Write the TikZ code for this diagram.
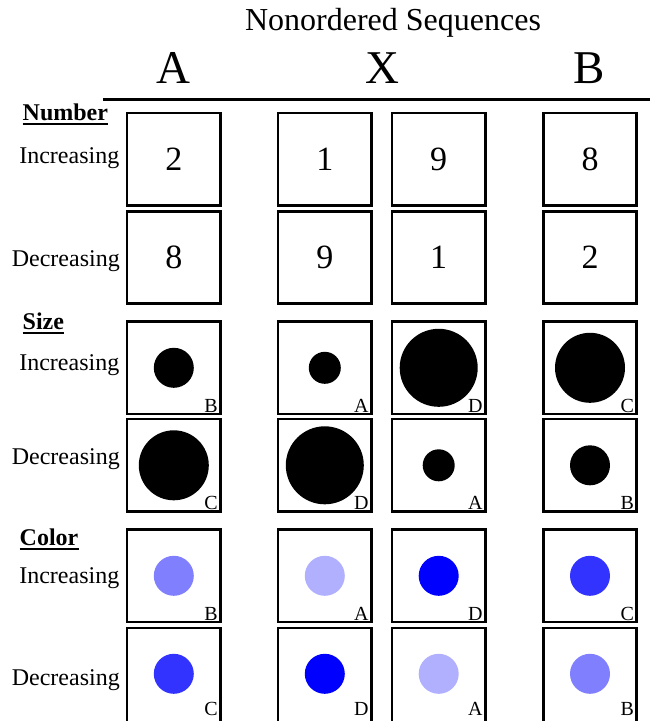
\documentclass[tikz,border=0pt]{standalone}
\usepackage{fontspec}
\setmainfont{Liberation Serif}
\definecolor{colA}{HTML}{B0B0FF}
\definecolor{colB}{HTML}{8080FF}
\definecolor{colC}{HTML}{3333FF}
\definecolor{colD}{HTML}{0000FF}
\tikzset{
  cell/.style={draw=black, line width=2.6pt, minimum width=93.5pt, minimum height=92.5pt, inner sep=0pt, fill=white},
  lastcell/.style={cell, minimum height=96pt},
  digit/.style={inner sep=0pt, font=\fontsize{34}{40}\selectfont},
  corner/.style={inner sep=0pt, anchor=base east, font=\fontsize{20}{24}\selectfont},
  rowlabel/.style={inner sep=0pt, anchor=base east, font=\fontsize{24}{28}\selectfont},
  heading/.style={inner sep=0pt, anchor=base west, font=\fontsize{24}{28}\selectfont\bfseries},
  colhead/.style={inner sep=0pt, anchor=base, font=\fontsize{47}{52}\selectfont},
  title/.style={inner sep=0pt, anchor=base, font=\fontsize{32}{38}\selectfont},
  dot/.style={circle, inner sep=0pt, draw=none},
}
\newcommand{\cellsize}[5]{% name, x, y, radius, letter
  \node[cell] (#1) at (#2,#3) {};
  \node[dot, fill=black, minimum size=#4*2pt] (#1d) at (#1.center) {};
  \node[corner] (#1l) at ([xshift=-4pt,yshift=3pt]#1.south east) {#5};
}
\newcommand{\cellcolor}[5]{% name, x, y, color, letter
  \node[cell] (#1) at (#2,#3) {};
  \node[dot, fill=#4, minimum size=40pt] (#1d) at (#1.center) {};
  \node[corner] (#1l) at ([xshift=-4pt,yshift=3pt]#1.south east) {#5};
}
\newcommand{\lastcellcolor}[4]{% name, x, color, letter
  \node[lastcell] (#1) at (#2,675.95) {};
  \node[dot, fill=#3, minimum size=40pt] (#1d) at (#2,673.8) {};
  \node[corner] (#1l) at ([xshift=-4pt]#1.east |- 0,715) {#4};
}
\begin{document}
\begin{tikzpicture}[x=1pt, y=-1pt]
\useasboundingbox (0,0) rectangle (650,721);

% header
\node[title] (title) at (393,30) {Nonordered Sequences};
\node[colhead] (hA) at (173,83.5) {A};
\node[colhead] (hX) at (382,83.5) {X};
\node[colhead] (hB) at (589,83.5) {B};
\coordinate (ruleL) at (103,99.3);
\coordinate (ruleR) at (650,99.3);
\draw[line width=3.3pt] (ruleL) -- (ruleR);

% headings
\node[heading] (hNum) at (22.5,120.5) {Number};
\draw[line width=1.8pt] ([yshift=-3.8pt]hNum.base west) -- ([yshift=-3.8pt]hNum.base east);
\node[heading] (hSize) at (22.5,329) {Size};
\draw[line width=1.8pt] ([yshift=-3.8pt]hSize.base west) -- ([yshift=-3.8pt]hSize.base east);
\node[heading] (hCol) at (19.5,545) {Color};
\draw[line width=1.8pt] ([yshift=-3.8pt]hCol.base west) -- ([yshift=-3.8pt]hCol.base east);

% row labels
\node[rowlabel] (l1) at (119.5,163.3) {Increasing};
\node[rowlabel] (l2) at (120,266.7) {Decreasing};
\node[rowlabel] (l3) at (119.5,370) {Increasing};
\node[rowlabel] (l4) at (120,464.3) {Decreasing};
\node[rowlabel] (l5) at (119.5,583.3) {Increasing};
\node[rowlabel] (l6) at (120,685) {Decreasing};

% number rows
\node[cell] (n1a) at (173.8,159.3) {};
\node[digit] (n1at) at (n1a.center) {2};
\node[cell] (n1x) at (324.8,159.3) {};
\node[digit] (n1xt) at (n1x.center) {1};
\node[cell] (n1y) at (438.7,159.3) {};
\node[digit] (n1yt) at (n1y.center) {9};
\node[cell] (n1b) at (590,159.3) {};
\node[digit] (n1bt) at (n1b.center) {8};

\node[cell] (n2a) at (173.8,257.5) {};
\node[digit] (n2at) at (n2a.center) {8};
\node[cell] (n2x) at (324.8,257.5) {};
\node[digit] (n2xt) at (n2x.center) {9};
\node[cell] (n2y) at (438.7,257.5) {};
\node[digit] (n2yt) at (n2y.center) {1};
\node[cell] (n2b) at (590,257.5) {};
\node[digit] (n2bt) at (n2b.center) {2};

% size rows
\cellsize{s1a}{173.8}{367.8}{20}{B}
\cellsize{s1x}{324.8}{367.8}{16}{A}
\cellsize{s1y}{438.7}{367.8}{39}{D}
\cellsize{s1b}{590}{367.8}{35}{C}

\cellsize{s2a}{173.8}{465.3}{35}{C}
\cellsize{s2x}{324.8}{465.3}{39}{D}
\cellsize{s2y}{438.7}{465.3}{16}{A}
\cellsize{s2b}{590}{465.3}{20}{B}

% color rows
\cellcolor{c1a}{173.8}{575.8}{colB}{B}
\cellcolor{c1x}{324.8}{575.8}{colA}{A}
\cellcolor{c1y}{438.7}{575.8}{colD}{D}
\cellcolor{c1b}{590}{575.8}{colC}{C}

\lastcellcolor{c2a}{173.8}{colC}{C}
\lastcellcolor{c2x}{324.8}{colD}{D}
\lastcellcolor{c2y}{438.7}{colA}{A}
\lastcellcolor{c2b}{590}{colB}{B}
\end{tikzpicture}
\end{document}
